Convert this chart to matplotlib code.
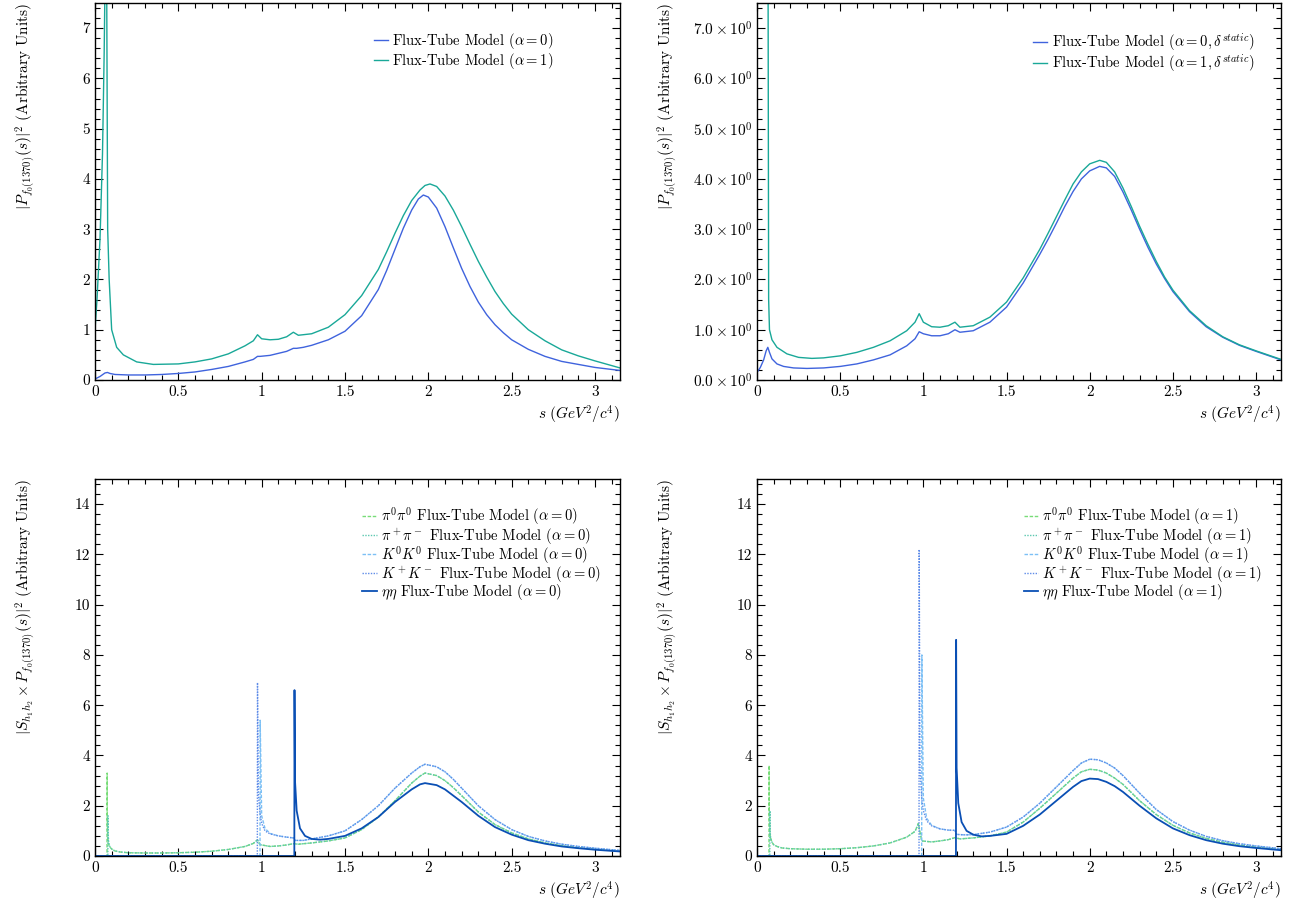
import matplotlib
matplotlib.use("Agg")
import matplotlib.pyplot as plt
from matplotlib.ticker import MultipleLocator, FuncFormatter

plt.rcParams['font.family'] = 'serif'
plt.rcParams['font.serif'] = ['cmr10']
plt.rcParams['mathtext.fontset'] = 'cm'
plt.rcParams['axes.formatter.use_mathtext'] = True
plt.rcParams['axes.unicode_minus'] = False

# --- top left: |P_f0(1370)|^2 ---
s_tl0 = [0, 0.03, 0.06, 0.075, 0.09, 0.12, 0.2, 0.3, 0.4, 0.5, 0.6, 0.7, 0.8, 0.9, 0.95, 0.975, 0.99,
         1.05, 1.1, 1.15, 1.19, 1.21, 1.25, 1.3, 1.4, 1.5, 1.6, 1.7, 1.75, 1.8, 1.85, 1.9, 1.94, 1.97, 2.0,
         2.05, 2.1, 2.15, 2.2, 2.25, 2.3, 2.35, 2.4, 2.45, 2.5, 2.6, 2.7, 2.8, 2.9, 3.0, 3.15]
p_tl0 = [0.02, 0.07, 0.14, 0.15, 0.13, 0.11, 0.10, 0.10, 0.11, 0.13, 0.16, 0.21, 0.27, 0.36, 0.41, 0.47, 0.47,
         0.49, 0.53, 0.57, 0.63, 0.63, 0.65, 0.69, 0.80, 0.97, 1.28, 1.8, 2.18, 2.6, 3.02, 3.38, 3.6, 3.68, 3.64,
         3.42, 3.05, 2.63, 2.22, 1.86, 1.55, 1.3, 1.1, 0.94, 0.8, 0.61, 0.47, 0.37, 0.31, 0.25, 0.19]
s_tl1 = [0, 0.012, 0.03, 0.045, 0.055, 0.064, 0.07, 0.076, 0.085, 0.1, 0.13, 0.17, 0.25, 0.35, 0.5, 0.6, 0.7,
         0.8, 0.9, 0.95, 0.975, 1.0, 1.05, 1.1, 1.15, 1.19, 1.22, 1.3, 1.4, 1.5, 1.6, 1.7, 1.75, 1.8, 1.85,
         1.9, 1.95, 1.98, 2.01, 2.05, 2.1, 2.15, 2.2, 2.25, 2.3, 2.35, 2.4, 2.45, 2.5, 2.6, 2.7, 2.8, 2.9,
         3.0, 3.15]
p_tl1 = [1.0, 1.6, 2.8, 4.5, 6.5, 9.0, 8.0, 3.0, 2.0, 1.0, 0.65, 0.5, 0.36, 0.31, 0.32, 0.36, 0.42,
         0.52, 0.68, 0.78, 0.9, 0.82, 0.8, 0.81, 0.86, 0.95, 0.89, 0.92, 1.05, 1.3, 1.68, 2.2, 2.55, 2.92, 3.27,
         3.57, 3.78, 3.87, 3.9, 3.85, 3.66, 3.38, 3.05, 2.7, 2.36, 2.05, 1.76, 1.52, 1.31, 1.0, 0.78, 0.6, 0.48,
         0.38, 0.24]

# --- top right: static delta ---
s_tr0 = [0, 0.02, 0.04, 0.055, 0.065, 0.075, 0.09, 0.12, 0.16, 0.22, 0.3, 0.4, 0.5, 0.6, 0.7, 0.8, 0.9, 0.95,
         0.975, 1.0, 1.05, 1.1, 1.15, 1.19, 1.22, 1.3, 1.4, 1.5, 1.6, 1.7, 1.75, 1.8, 1.85, 1.9, 1.95, 2.0,
         2.06, 2.1, 2.15, 2.2, 2.25, 2.3, 2.35, 2.4, 2.45, 2.5, 2.6, 2.7, 2.8, 2.9, 3.0, 3.15]
p_tr0 = [0.15, 0.25, 0.4, 0.58, 0.65, 0.55, 0.42, 0.32, 0.27, 0.24, 0.23, 0.24, 0.27, 0.32, 0.4, 0.5, 0.68, 0.82,
         0.96, 0.92, 0.88, 0.88, 0.92, 1.0, 0.95, 0.98, 1.15, 1.45, 1.93, 2.5, 2.8, 3.12, 3.45, 3.75, 4.0, 4.16,
         4.25, 4.22, 4.05, 3.74, 3.38, 3.0, 2.64, 2.31, 2.02, 1.76, 1.36, 1.06, 0.85, 0.69, 0.57, 0.40]
s_tr1 = [0.066, 0.07, 0.075, 0.09, 0.12, 0.18, 0.25, 0.33, 0.4, 0.5, 0.6, 0.7, 0.8, 0.9, 0.95, 0.975, 1.0,
         1.05, 1.1, 1.15, 1.19, 1.22, 1.3, 1.4, 1.5, 1.6, 1.7, 1.75, 1.8, 1.85, 1.9, 1.95, 2.0, 2.06, 2.1,
         2.15, 2.2, 2.25, 2.3, 2.35, 2.4, 2.45, 2.5, 2.6, 2.7, 2.8, 2.9, 3.0, 3.15]
p_tr1 = [9.0, 1.6, 1.0, 0.8, 0.65, 0.52, 0.45, 0.43, 0.44, 0.48, 0.55, 0.65, 0.78, 0.98, 1.15, 1.32, 1.15,
         1.06, 1.05, 1.08, 1.15, 1.05, 1.08, 1.25, 1.55, 2.03, 2.6, 2.92, 3.25, 3.58, 3.9, 4.14, 4.3, 4.37, 4.33,
         4.14, 3.82, 3.45, 3.06, 2.7, 2.36, 2.05, 1.79, 1.38, 1.08, 0.86, 0.7, 0.58, 0.41]

# --- bottom left: channels, alpha = 0 ---
s_pi00_a0 = [0, 0.072, 0.073, 0.0735, 0.076, 0.08, 0.09, 0.1, 0.12, 0.15, 0.2, 0.3, 0.4, 0.5, 0.6, 0.7, 0.8,
             0.9, 0.95, 0.975, 0.99, 1.05, 1.1, 1.15, 1.19, 1.22, 1.3, 1.4, 1.5, 1.6, 1.7, 1.8, 1.9, 1.95,
             1.98, 2.05, 2.1, 2.15, 2.2, 2.3, 2.4, 2.5, 2.6, 2.7, 2.8, 2.9, 3.0, 3.15]
y_pi00_a0 = [0, 0, 3.3, 1.5, 0.8, 0.5, 0.35, 0.28, 0.2, 0.16, 0.13, 0.12, 0.12, 0.13, 0.15, 0.19, 0.26,
             0.38, 0.5, 0.65, 0.45, 0.38, 0.4, 0.44, 0.49, 0.47, 0.52, 0.6, 0.72, 1.05, 1.55, 2.2, 2.9, 3.18,
             3.3, 3.2, 3.0, 2.72, 2.4, 1.75, 1.25, 0.92, 0.68, 0.52, 0.41, 0.33, 0.27, 0.2]
s_pipm_a0 = [0, 0.077, 0.078, 0.079, 0.082, 0.09, 0.1, 0.12, 0.15, 0.2, 0.3, 0.4, 0.5, 0.6, 0.7, 0.8,
             0.9, 0.95, 0.975, 0.99, 1.05, 1.1, 1.15, 1.19, 1.22, 1.3, 1.4, 1.5, 1.6, 1.7, 1.8, 1.9, 1.95,
             1.98, 2.05, 2.1, 2.15, 2.2, 2.3, 2.4, 2.5, 2.6, 2.7, 2.8, 2.9, 3.0, 3.15]
y_pipm_a0 = [0, 0, 1.6, 0.9, 0.55, 0.36, 0.28, 0.2, 0.16, 0.13, 0.12, 0.12, 0.13, 0.15, 0.19, 0.26,
             0.38, 0.5, 0.64, 0.45, 0.38, 0.4, 0.44, 0.49, 0.47, 0.52, 0.6, 0.72, 1.05, 1.55, 2.2, 2.9, 3.18,
             3.3, 3.2, 3.0, 2.72, 2.4, 1.75, 1.25, 0.92, 0.68, 0.52, 0.41, 0.33, 0.27, 0.2]
s_k00_a0 = [0, 0.99, 0.991, 1.0, 1.02, 1.05, 1.1, 1.15, 1.19, 1.2, 1.25, 1.3, 1.4, 1.5, 1.6, 1.7, 1.8, 1.9,
            1.95, 1.98, 2.05, 2.1, 2.15, 2.2, 2.3, 2.4, 2.5, 2.6, 2.7, 2.8, 2.9, 3.0, 3.15]
y_k00_a0 = [0, 0, 5.4, 1.6, 1.1, 0.9, 0.8, 0.75, 0.72, 0.62, 0.62, 0.68, 0.8, 1.0, 1.45, 2.0, 2.7, 3.3,
            3.55, 3.65, 3.55, 3.35, 3.05, 2.7, 2.0, 1.45, 1.05, 0.78, 0.6, 0.47, 0.38, 0.31, 0.22]
s_kpm_a0 = [0, 0.974, 0.975, 0.98, 0.99, 1.0, 1.02, 1.05, 1.1, 1.15, 1.19, 1.2, 1.25, 1.3, 1.4, 1.5, 1.6,
            1.7, 1.8, 1.9, 1.95, 1.98, 2.05, 2.1, 2.15, 2.2, 2.3, 2.4, 2.5, 2.6, 2.7, 2.8, 2.9, 3.0, 3.15]
y_kpm_a0 = [0, 0, 6.9, 2.5, 1.7, 1.3, 1.0, 0.88, 0.8, 0.75, 0.72, 0.62, 0.62, 0.68, 0.8, 1.0, 1.45,
            2.0, 2.7, 3.3, 3.55, 3.65, 3.55, 3.35, 3.05, 2.7, 2.0, 1.45, 1.05, 0.78, 0.6, 0.47, 0.38, 0.31, 0.22]
s_eta_a0 = [0, 1.196, 1.197, 1.2, 1.21, 1.23, 1.26, 1.3, 1.35, 1.4, 1.5, 1.6, 1.7, 1.8, 1.9, 1.95, 1.98,
            2.05, 2.1, 2.15, 2.2, 2.3, 2.4, 2.5, 2.6, 2.7, 2.8, 2.9, 3.0, 3.15]
y_eta_a0 = [0, 0, 6.6, 3.0, 1.8, 1.1, 0.8, 0.68, 0.65, 0.68, 0.8, 1.1, 1.55, 2.15, 2.65, 2.85, 2.9,
            2.82, 2.65, 2.4, 2.15, 1.6, 1.15, 0.85, 0.63, 0.49, 0.38, 0.31, 0.25, 0.18]

# --- bottom right: channels, alpha = 1 ---
s_pi00_a1 = [0, 0.072, 0.073, 0.0735, 0.076, 0.08, 0.09, 0.1, 0.12, 0.15, 0.2, 0.3, 0.4, 0.5, 0.6, 0.7, 0.8,
             0.9, 0.95, 0.97, 0.99, 1.05, 1.1, 1.15, 1.19, 1.22, 1.3, 1.4, 1.5, 1.6, 1.7, 1.8, 1.9, 1.95,
             2.0, 2.05, 2.1, 2.15, 2.2, 2.3, 2.4, 2.5, 2.6, 2.7, 2.8, 2.9, 3.0, 3.15]
y_pi00_a1 = [0, 0, 3.6, 2.0, 1.1, 0.75, 0.55, 0.45, 0.38, 0.32, 0.29, 0.27, 0.27, 0.29, 0.33, 0.4, 0.52,
             0.75, 0.98, 1.3, 0.6, 0.56, 0.6, 0.65, 0.73, 0.68, 0.72, 0.8, 0.95, 1.35, 1.9, 2.5, 3.1, 3.35,
             3.45, 3.42, 3.3, 3.1, 2.85, 2.2, 1.65, 1.22, 0.92, 0.7, 0.55, 0.44, 0.36, 0.26]
s_pipm_a1 = [0, 0.077, 0.078, 0.079, 0.082, 0.09, 0.1, 0.12, 0.15, 0.2, 0.3, 0.4, 0.5, 0.6, 0.7, 0.8,
             0.9, 0.95, 0.97, 0.99, 1.05, 1.1, 1.15, 1.19, 1.22, 1.3, 1.4, 1.5, 1.6, 1.7, 1.8, 1.9, 1.95,
             2.0, 2.05, 2.1, 2.15, 2.2, 2.3, 2.4, 2.5, 2.6, 2.7, 2.8, 2.9, 3.0, 3.15]
y_pipm_a1 = [0, 0, 1.8, 1.0, 0.7, 0.55, 0.45, 0.38, 0.32, 0.29, 0.27, 0.27, 0.29, 0.33, 0.4, 0.52,
             0.75, 0.98, 1.28, 0.6, 0.56, 0.6, 0.65, 0.73, 0.68, 0.72, 0.8, 0.95, 1.35, 1.9, 2.5, 3.1, 3.35,
             3.45, 3.42, 3.3, 3.1, 2.85, 2.2, 1.65, 1.22, 0.92, 0.7, 0.55, 0.44, 0.36, 0.26]
s_k00_a1 = [0, 0.99, 0.991, 1.0, 1.02, 1.05, 1.1, 1.15, 1.19, 1.2, 1.25, 1.3, 1.4, 1.5, 1.6, 1.7, 1.8, 1.9,
            1.95, 2.0, 2.05, 2.1, 2.15, 2.2, 2.3, 2.4, 2.5, 2.6, 2.7, 2.8, 2.9, 3.0, 3.15]
y_k00_a1 = [0, 0, 8.0, 2.3, 1.5, 1.22, 1.08, 1.03, 1.02, 0.86, 0.84, 0.85, 0.95, 1.15, 1.55, 2.1, 2.75, 3.4,
            3.7, 3.85, 3.83, 3.7, 3.5, 3.2, 2.5, 1.85, 1.37, 1.03, 0.78, 0.61, 0.49, 0.4, 0.29]
s_kpm_a1 = [0, 0.974, 0.975, 0.98, 0.99, 1.0, 1.02, 1.05, 1.1, 1.15, 1.19, 1.2, 1.25, 1.3, 1.4, 1.5, 1.6,
            1.7, 1.8, 1.9, 1.95, 2.0, 2.05, 2.1, 2.15, 2.2, 2.3, 2.4, 2.5, 2.6, 2.7, 2.8, 2.9, 3.0, 3.15]
y_kpm_a1 = [0, 0, 12.2, 3.5, 2.3, 1.8, 1.4, 1.2, 1.08, 1.03, 1.02, 0.86, 0.84, 0.85, 0.95, 1.15, 1.55,
            2.1, 2.75, 3.4, 3.7, 3.85, 3.83, 3.7, 3.5, 3.2, 2.5, 1.85, 1.37, 1.03, 0.78, 0.61, 0.49, 0.4, 0.29]
s_eta_a1 = [0, 1.196, 1.197, 1.2, 1.21, 1.23, 1.26, 1.3, 1.35, 1.4, 1.5, 1.6, 1.7, 1.8, 1.9, 1.95, 2.0,
            2.05, 2.1, 2.15, 2.2, 2.3, 2.4, 2.5, 2.6, 2.7, 2.8, 2.9, 3.0, 3.15]
y_eta_a1 = [0, 0, 8.6, 3.5, 2.1, 1.35, 1.0, 0.85, 0.78, 0.8, 0.88, 1.2, 1.65, 2.2, 2.75, 2.98, 3.08,
            3.06, 2.95, 2.78, 2.55, 2.0, 1.5, 1.1, 0.83, 0.63, 0.49, 0.39, 0.32, 0.23]

c_a0 = '#3f63dd'
c_a1 = '#19a898'
c_pi00 = '#78dc78'
c_pipm = '#5cc8b0'
c_k00 = '#7cc0f5'
c_kpm = '#5f8ce8'
c_eta = '#0a4fb4'

fig = plt.figure(figsize=(13.06, 9.08), dpi=100)
W, H = 1306, 908
def box(l, r, t, b):
    return [l / W, 1 - b / H, (r - l) / W, (b - t) / H]

ax_tl = fig.add_axes(box(95, 620, 3, 380))
ax_tr = fig.add_axes(box(757, 1281, 3, 380))
ax_bl = fig.add_axes(box(95, 620, 479, 856))
ax_br = fig.add_axes(box(757, 1281, 479, 856))

ax_tl.plot(s_tl0, p_tl0, color=c_a0, lw=1.0, label=r'Flux-Tube Model ($\alpha = 0$)')
ax_tl.plot(s_tl1, p_tl1, color=c_a1, lw=1.0, label=r'Flux-Tube Model ($\alpha = 1$)')
ax_tr.plot(s_tr0, p_tr0, color=c_a0, lw=1.0, label=r'Flux-Tube Model ($\alpha = 0, \delta^{static}$)')
ax_tr.plot(s_tr1, p_tr1, color=c_a1, lw=1.0, label=r'Flux-Tube Model ($\alpha = 1, \delta^{static}$)')

for ax, a, d in [(ax_bl, '0', (s_pi00_a0, y_pi00_a0, s_pipm_a0, y_pipm_a0, s_k00_a0, y_k00_a0,
                               s_kpm_a0, y_kpm_a0, s_eta_a0, y_eta_a0)),
                 (ax_br, '1', (s_pi00_a1, y_pi00_a1, s_pipm_a1, y_pipm_a1, s_k00_a1, y_k00_a1,
                               s_kpm_a1, y_kpm_a1, s_eta_a1, y_eta_a1))]:
    ax.plot(d[0], d[1], color=c_pi00, lw=1.0, ls=(0, (2.5, 1.2)),
            label=r'$\pi^0\pi^0$ Flux-Tube Model ($\alpha = %s$)' % a)
    ax.plot(d[2], d[3], color=c_pipm, lw=1.0, ls=(0, (1, 1)),
            label=r'$\pi^+\pi^-$ Flux-Tube Model ($\alpha = %s$)' % a)
    ax.plot(d[4], d[5], color=c_k00, lw=1.0, ls=(0, (2.5, 1.2)),
            label=r'$K^0K^0$ Flux-Tube Model ($\alpha = %s$)' % a)
    ax.plot(d[6], d[7], color=c_kpm, lw=1.0, ls=(0, (1, 1)),
            label=r'$K^+K^-$ Flux-Tube Model ($\alpha = %s$)' % a)
    ax.plot(d[8], d[9], color=c_eta, lw=1.3,
            label=r'$\eta\eta$ Flux-Tube Model ($\alpha = %s$)' % a)

sci = FuncFormatter(lambda v, p: r'$%.1f \times 10^{0}$' % v)

for ax in [ax_tl, ax_tr, ax_bl, ax_br]:
    ax.set_xlim(0, 3.15)
    ax.xaxis.set_major_locator(MultipleLocator(0.5))
    ax.xaxis.set_minor_locator(MultipleLocator(0.1))
    ax.xaxis.set_major_formatter(FuncFormatter(lambda v, p: '%g' % v))
    ax.tick_params(which='both', direction='in', top=True, right=True, labelsize=11)
    ax.tick_params(which='major', length=6, width=0.8)
    ax.tick_params(which='minor', length=3.5, width=0.8)
    for sp in ax.spines.values():
        sp.set_linewidth(1.0)
    ax.set_xlabel(r'$s\ (GeV^2/c^4)$', loc='right', fontsize=11)

for ax in [ax_tl, ax_tr]:
    ax.set_ylim(0, 7.5)
    ax.yaxis.set_major_locator(MultipleLocator(1))
    ax.yaxis.set_minor_locator(MultipleLocator(0.2))
    ax.set_ylabel(r'$|P_{f_0(1370)}(s)|^2$ (Arbitrary Units)', loc='top', fontsize=11)
ax_tr.yaxis.set_major_formatter(sci)
ax_tl.yaxis.set_major_formatter(FuncFormatter(lambda v, p: '%d' % v))

for ax in [ax_bl, ax_br]:
    ax.set_ylim(0, 15)
    ax.yaxis.set_major_locator(MultipleLocator(2))
    ax.yaxis.set_minor_locator(MultipleLocator(0.4))
    ax.yaxis.set_major_formatter(FuncFormatter(lambda v, p: '%d' % v))
    ax.set_ylabel(r'$|S_{h_1 h_2} \times P_{f_0(1370)}(s)|^2$ (Arbitrary Units)', loc='top', fontsize=11)

for ax in [ax_tl, ax_bl]:
    ax.yaxis.set_label_coords(-0.109, 1.0)
for ax in [ax_tr, ax_br]:
    ax.yaxis.set_label_coords(-0.147, 1.0)

leg_kw = dict(frameon=False, fontsize=10.5, handlelength=1.0, handletextpad=0.3,
              loc='upper right', borderaxespad=0)
ax_tl.legend(bbox_to_anchor=(0.885, 0.94), labelspacing=-0.05, **leg_kw)
ax_tr.legend(bbox_to_anchor=(0.96, 0.94), labelspacing=-0.05, **leg_kw)
ax_bl.legend(bbox_to_anchor=(0.975, 0.945), labelspacing=-0.12, **leg_kw)
ax_br.legend(bbox_to_anchor=(0.975, 0.945), labelspacing=-0.12, **leg_kw)

fig.savefig('out.png', dpi=100)
